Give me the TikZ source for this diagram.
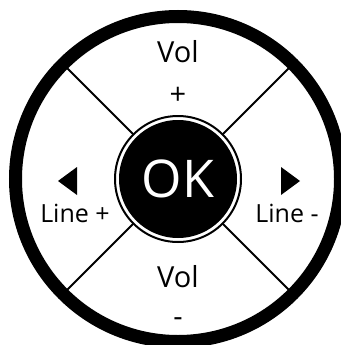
\documentclass[tikz,border=0pt]{standalone}
\usepackage{fontspec}
\setmainfont{Open Sans}
\usetikzlibrary{positioning}
\tikzset{
    padrim/.style={circle, draw, line width=13pt, minimum size=325pt, inner sep=0pt, outer sep=0pt},
    padring/.style={circle, draw, line width=2pt, minimum size=126pt, inner sep=0pt, outer sep=0pt},
    padok/.style={circle, fill=black, text=white, minimum size=118pt, inner sep=0pt, font=\fontsize{52}{52}\selectfont},
    padlabel/.style={anchor=base, inner sep=0pt, font=\fontsize{29}{29}\selectfont},
    padside/.style={anchor=base, inner sep=0pt, font=\fontsize{25}{25}\selectfont},
    padsep/.style={line width=2pt}
}
\begin{document}
\begin{tikzpicture}[x=1pt, y=-1pt]
  \useasboundingbox (0,0) rectangle (340,345);
  \node[padrim]  (rim)  at (178,179) {};
  \node[padok]   (ok)   at (178,179) {OK};
  \node[padring] (ring) at (ok) {};
  \foreach \c in {north west, north east, south west, south east}
    \draw[padsep] (ring.\c) -- (rim.\c);
  \node[padlabel] (volup)     at (178,63)  {Vol};
  \node[padlabel] (volupsgn)  at (178,104) {+};
  \node[padlabel] (voldn)     at (178,287) {Vol};
  \node[padlabel] (voldnsgn)  at (178,326) {-};
  \node[padside]  (lineup)    at (75,222)  {Line +};
  \node[padside]  (linedn)    at (287,222) {Line -};
  \fill (58,181) -- (77,167) -- (77,195) -- cycle;
  \fill (281,167) -- (300,181) -- (281,195) -- cycle;
\end{tikzpicture}
\end{document}
